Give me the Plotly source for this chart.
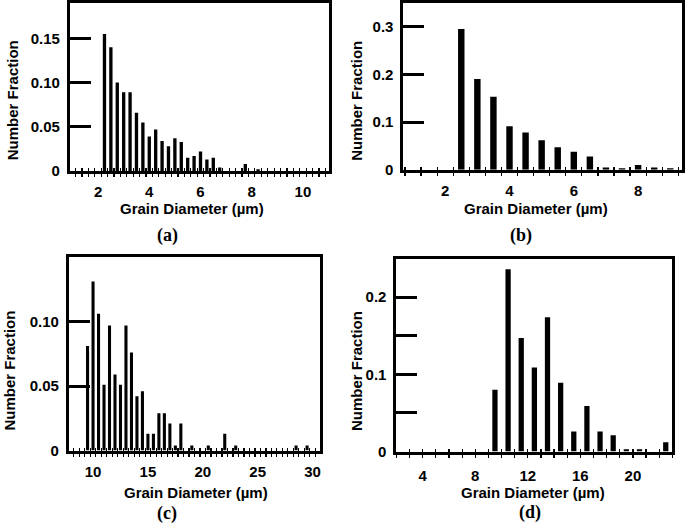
import plotly.graph_objects as go

# ---------------- data ----------------
a_x = [2.25, 2.5, 2.75, 3.0, 3.25, 3.5, 3.75, 4.0, 4.25, 4.5, 4.75, 5.0, 5.25,
       5.5, 5.75, 6.0, 6.25, 6.5, 6.75, 7.75, 8.25]
a_y = [0.155, 0.140, 0.100, 0.089, 0.089, 0.066, 0.055, 0.039, 0.047, 0.034,
       0.028, 0.037, 0.033, 0.015, 0.017, 0.022, 0.013, 0.015, 0.004, 0.008, 0.002]

b_x = [2.5, 3.0, 3.5, 4.0, 4.5, 5.0, 5.5, 6.0, 6.5, 7.0, 7.5, 8.0, 8.5, 9.0]
b_y = [0.295, 0.190, 0.153, 0.091, 0.078, 0.062, 0.047, 0.038, 0.028, 0.005,
       0.003, 0.010, 0.005, 0.003]

c_x = [9.5, 10, 10.5, 11, 11.5, 12, 12.5, 13, 13.5, 14, 14.5, 15, 15.5, 16,
       16.5, 17, 17.5, 18, 19, 20.5, 22, 23, 28.5, 29.5]
c_y = [0.081, 0.131, 0.106, 0.051, 0.097, 0.059, 0.051, 0.097, 0.076, 0.042,
       0.046, 0.013, 0.013, 0.029, 0.029, 0.021, 0.004, 0.021, 0.004, 0.004,
       0.013, 0.004, 0.004, 0.004]

d_x = [9.5, 10.5, 11.5, 12.5, 13.5, 14.5, 15.5, 16.5, 17.5, 18.5, 19.5, 20.5,
       21.5, 22.5]
d_y = [0.080, 0.236, 0.147, 0.109, 0.174, 0.089, 0.026, 0.059, 0.026, 0.021,
       0.003, 0.003, 0.0, 0.012]

a_xticks = [2, 4, 6, 8, 10]
b_xticks = [2, 4, 6, 8]
c_xticks = [10, 15, 20, 25, 30]
d_xticks = [4, 8, 12, 16, 20]

a_yticks, a_ylabels = [0, 0.05, 0.10, 0.15], ["0", "0.05", "0.10", "0.15"]
b_yticks, b_ylabels = [0, 0.1, 0.2, 0.3], ["0", "0.1", "0.2", "0.3"]
c_yticks, c_ylabels = [0, 0.05, 0.10], ["0", "0.05", "0.10"]
d_yticks, d_ylabels = [0, 0.05, 0.1, 0.15, 0.2], ["0", "", "0.1", "", "0.2"]

captions = ["(a)", "(b)", "(c)", "(d)"]
x_title = "Grain Diameter (µm)"
y_title = "Number Fraction"

W, H = 685, 531

panels = [
    dict(x=a_x, y=a_y, xt=a_xticks, yt=a_yticks, yl=a_ylabels, width=0.13,
         xr=[0.9, 11.0], yr=[0, 0.19], px=(70, 329), py=(2, 173),
         edge0=2.125, bin=0.25, cap=(168, 239), xtit=(192.5, 211.5), ytit=(12, 101)),
    dict(x=b_x, y=b_y, xt=b_xticks, yt=b_yticks, yl=b_ylabels, width=0.2,
         xr=[0.7, 9.35], yr=[0, 0.35], px=(404, 682.5), py=(1.7, 171.7),
         edge0=2.25, bin=0.5, cap=(522, 239), xtit=(536.5, 211.5), ytit=(357, 101)),
    dict(x=c_x, y=c_y, xt=c_xticks, yt=c_yticks, yl=c_ylabels, width=0.28,
         xr=[7.8, 30.7], yr=[0, 0.15], px=(69, 320.7), py=(260.4, 457.3),
         edge0=9.25, bin=0.5, cap=(167, 521), xtit=(196.5, 500), ytit=(10, 376)),
    dict(x=d_x, y=d_y, xt=d_xticks, yt=d_yticks, yl=d_ylabels, width=0.4,
         xr=[2, 23], yr=[0, 0.25], px=(397, 673.3), py=(262, 458.3),
         edge0=9, bin=1.0, cap=(531, 520), xtit=(534, 500), ytit=(357, 376)),
]

tick_font = dict(family="Liberation Sans, Arial, sans-serif", size=15,
                 color="black", weight="bold")

fig = go.Figure()
layout = dict(width=W, height=H, margin=dict(l=0, r=0, t=0, b=0),
              paper_bgcolor="white", plot_bgcolor="white", showlegend=False,
              annotations=[])

for i, p in enumerate(panels, start=1):
    xa = "x" if i == 1 else f"x{i}"
    ya = "y" if i == 1 else f"y{i}"
    ov = f"x{i + 4}"
    fig.add_trace(go.Bar(x=p["x"], y=p["y"], width=p["width"],
                         marker=dict(color="black", line=dict(width=0)),
                         xaxis=xa, yaxis=ya, hoverinfo="skip"))
    # empty trace on an overlaying x axis to draw the inner half of the ticks
    fig.add_trace(go.Bar(x=[], y=[], xaxis=ov, yaxis=ya))

    dx = [p["px"][0] / W, p["px"][1] / W]
    dy = [1 - p["py"][1] / H, 1 - p["py"][0] / H]
    major_len = 3 if i == 4 else 0
    layout[f"xaxis{i if i > 1 else ''}"] = dict(
        domain=dx, anchor=ya, range=p["xr"], showgrid=False, zeroline=False,
        showline=True, mirror=True, linewidth=3, linecolor="black",
        tickmode="array", tickvals=p["xt"], ticktext=[str(t) for t in p["xt"]],
        ticks="outside", ticklen=major_len, tickwidth=1.2, tickcolor="black",
        tickfont=tick_font, ticklabelstandoff=5,
        minor=dict(tick0=p["edge0"], dtick=p["bin"], ticks="outside",
                   ticklen=3, tickwidth=1.2, tickcolor="black", showgrid=False),
    )
    layout[f"xaxis{i + 4}"] = dict(
        domain=dx, anchor=ya, overlaying=xa, range=p["xr"], showgrid=False,
        zeroline=False, showline=False, showticklabels=False,
        tickmode="linear", tick0=p["edge0"], dtick=p["bin"],
        ticks="inside", ticklen=3, tickwidth=1.2, tickcolor="black",
    )
    layout[f"yaxis{i if i > 1 else ''}"] = dict(
        domain=dy, anchor=xa, range=p["yr"], showgrid=False, zeroline=False,
        showline=True, mirror=True, linewidth=3, linecolor="black",
        tickmode="array", tickvals=p["yt"], ticktext=p["yl"],
        ticks="inside", ticklen=21, tickwidth=3, tickcolor="black",
        tickfont=tick_font, ticklabelstandoff=4,
    )
    layout["annotations"] += [
        dict(text=x_title, x=p["xtit"][0] / W, y=1 - p["xtit"][1] / H,
             xref="paper", yref="paper", showarrow=False,
             xanchor="center", yanchor="middle", font=tick_font),
        dict(text=y_title, x=p["ytit"][0] / W, y=1 - p["ytit"][1] / H,
             xref="paper", yref="paper", showarrow=False, textangle=-90,
             xanchor="center", yanchor="middle", font=tick_font),
        dict(text=f"<b>{captions[i - 1]}</b>", x=p["cap"][0] / W,
             y=1 - p["cap"][1] / H, xref="paper", yref="paper",
             showarrow=False, xanchor="center", yanchor="middle",
             font=dict(family="Liberation Serif, Times New Roman, serif",
                       size=18, color="black")),
    ]

fig.update_layout(**layout)
fig.write_html("out.html",
               config={"displayModeBar": False, "staticPlot": True},
               post_script="document.body.style.margin='0';"
                           "document.body.style.overflow='hidden';")
